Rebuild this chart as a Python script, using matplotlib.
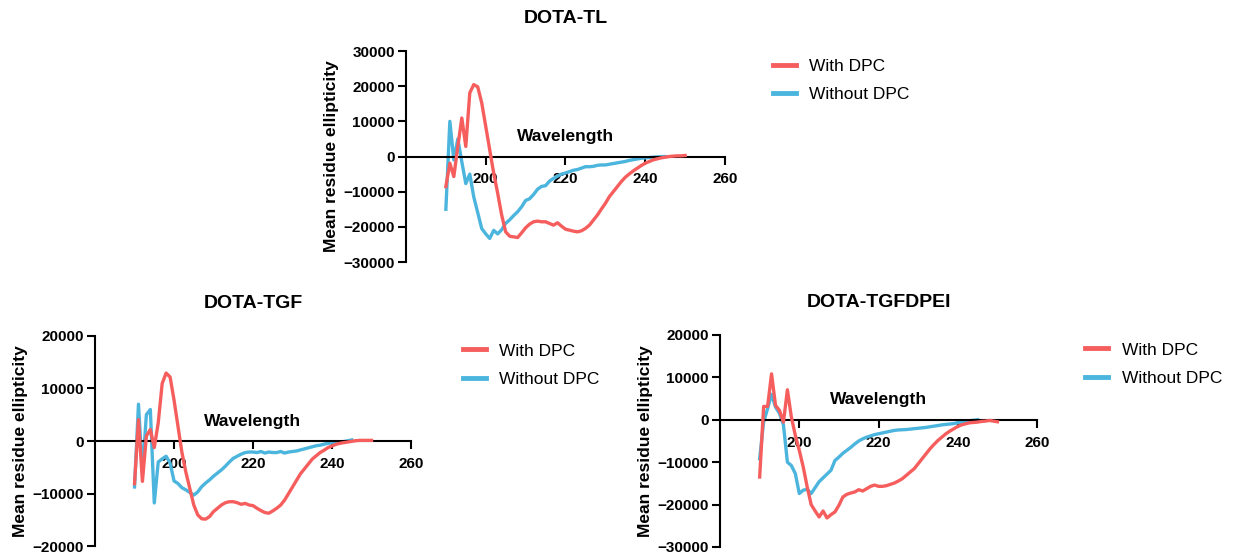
import matplotlib.pyplot as plt
import numpy as np

plt.rcParams['font.family'] = ['Liberation Sans', 'DejaVu Sans']

# wavelength grids (nm)
wl_with = np.arange(190, 251)
wl_without = np.arange(190, 246)

# DOTA-TL
tl_with = [-8570, -1900, -5700, 2860, 10950, 2860, 18100, 20470, 19800, 15230,
           8570, 1900, -4760, -10470, -16660, -21420, -22660, -22850, -23040, -21700,
           -20280, -19230, -18560, -18370, -18560, -18560, -19040, -19520, -18850, -19800,
           -20660, -20940, -21230, -21420, -21130, -20470, -19520, -18090, -16660, -14950,
           -13330, -11420, -10000, -8570, -7140, -5900, -4950, -4090, -3330, -2570,
           -1900, -1430, -950, -670, -380, -190, 0, 100, 190, 190, 290]
tl_without = [-15000, 10000, -1000, 5000, -1500, -7700, -5000, -11500, -16000, -20500,
              -22000, -23300, -21000, -22000, -20800, -19000, -18000, -16800, -15700, -14300,
              -12500, -12000, -10800, -9300, -8500, -8300, -7000, -6200, -5600, -5000,
              -4700, -4300, -3900, -3700, -3300, -2900, -2900, -2800, -2500, -2400,
              -2400, -2200, -2000, -1800, -1600, -1400, -1100, -900, -700, -500,
              -380, -300, -190, -100, -30, 0]

# DOTA-TGF
tgf_with = [-8125, 4060, -7690, 940, 2190, -1250, 3440, 10940, 12940, 12190,
            7810, 2810, -2190, -5940, -9060, -12190, -14060, -14810, -14880, -14380,
            -13440, -12810, -12190, -11750, -11560, -11560, -11750, -12060, -11880, -12190,
            -12310, -12810, -13250, -13630, -13750, -13310, -12810, -12190, -11250, -10000,
            -8750, -7500, -6250, -5310, -4380, -3440, -2810, -2190, -1750, -1250,
            -940, -630, -440, -310, -190, -60, 60, 120, 120, 120, 120]
tgf_without = [-8750, 7000, -6000, 5000, 6000, -11800, -4000, -3400, -2900, -4200,
               -7600, -8100, -8900, -9300, -9800, -10300, -9700, -8700, -8000, -7400,
               -6700, -6100, -5500, -4800, -4000, -3300, -2900, -2500, -2200, -2100,
               -2100, -2200, -2000, -2300, -2100, -2200, -2200, -2000, -2300, -2100,
               -2000, -1900, -1700, -1500, -1300, -1100, -900, -800, -600, -450,
               -350, -300, -200, -100, 50, 200]

# DOTA-TGFDPEI
tgfd_with = [-13500, 3140, 3140, 10830, 3380, 2200, -550, 7070, 630, -3690,
             -7220, -11150, -15860, -20020, -21510, -22920, -21510, -23160, -22370, -21740,
             -20170, -18210, -17580, -17270, -17030, -16490, -16800, -16250, -15700, -15390,
             -15700, -15700, -15540, -15230, -14920, -14440, -13900, -13110, -12320, -11540,
             -10360, -9180, -8010, -6830, -5810, -4870, -4080, -3300, -2670, -2120,
             -1570, -1180, -940, -710, -630, -550, -390, -310, -160, -310, -470]
tgfd_without = [-9200, -500, 2600, 6000, 3000, 1500, -1200, -10000, -10800, -12700,
                -17400, -16600, -16400, -17400, -16000, -14600, -13700, -12800, -11900, -9600,
                -8800, -7900, -7200, -6500, -5700, -5000, -4500, -4100, -3800, -3500,
                -3300, -3100, -2900, -2700, -2500, -2400, -2350, -2300, -2200, -2100,
                -2000, -1900, -1800, -1650, -1500, -1350, -1200, -1100, -1000, -900,
                -700, -550, -400, -250, -100, 0]

red = '#F65E5E'
blue = '#4BB5DE'

fig = plt.figure(figsize=(12.34, 5.57), dpi=100)

panels = [
    ('DOTA-TL', tl_with, tl_without, [0.329, 0.5296, 0.2585, 0.3788], (-30000, 30000), 0.6264, 0.8950),
    ('DOTA-TGF', tgf_with, tgf_without, [0.077, 0.0197, 0.2561, 0.3771], (-20000, 20000), 0.3752, 0.3835),
    ('DOTA-TGFDPEI', tgfd_with, tgfd_without, [0.5835, 0.018, 0.2569, 0.3806], (-30000, 20000), 0.8793, 0.3853),
]

for title, y_with, y_without, rect, ylim, lx, ly in panels:
    ax = fig.add_axes(rect)
    ax.plot(wl_with, y_with, color=red, lw=2.4, label='With DPC', zorder=3)
    ax.plot(wl_without, y_without, color=blue, lw=2.4, label='Without DPC', zorder=2)

    ax.set_xlim(180, 260)
    ax.set_ylim(*ylim)
    ax.set_xticks([200, 220, 240, 260])
    ax.set_yticks(np.arange(ylim[0], ylim[1] + 1, 10000))

    ax.spines['top'].set_visible(False)
    ax.spines['right'].set_visible(False)
    ax.spines['bottom'].set_position(('data', 0))
    for s in ('left', 'bottom'):
        ax.spines[s].set_linewidth(1.5)
    ax.tick_params(axis='x', width=1.5, length=6, labelsize=11, pad=5.5)
    ax.tick_params(axis='y', width=1.5, length=6, labelsize=11, pad=2)
    for lab in ax.get_xticklabels() + ax.get_yticklabels():
        lab.set_fontweight('bold')

    ax.set_title(title, fontsize=14, fontweight='bold', pad=20)
    ax.set_ylabel('Mean residue ellipticity', fontsize=12.5, fontweight='bold', labelpad=3)
    ax.annotate('Wavelength', xy=(0.5, 0), xycoords=('axes fraction', 'data'),
                xytext=(0, 20), textcoords='offset pixels', ha='center', va='center',
                fontsize=12.5, fontweight='bold')

    ax.legend(loc='upper left', bbox_to_anchor=(lx, ly), bbox_transform=fig.transFigure,
              frameon=False, fontsize=12.5, handlelength=1.35, handletextpad=0.75,
              labelspacing=0.78, borderpad=0, borderaxespad=0)
    for line in ax.get_legend().get_lines():
        line.set_linewidth(3.5)

fig.savefig('out.png', dpi=100)
